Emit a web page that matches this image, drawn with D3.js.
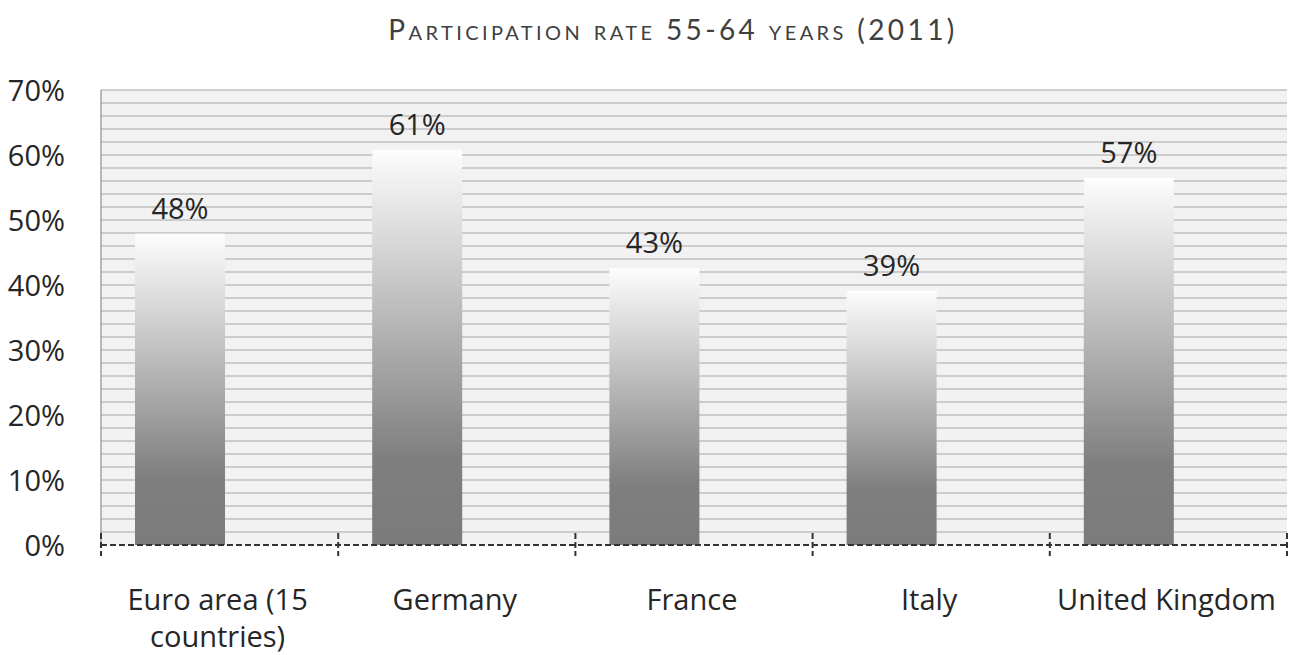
<!DOCTYPE html>
<html>
<head>
<meta charset="utf-8">
<script src="https://d3js.org/d3.v7.min.js"></script>
<style>
  body { margin: 0; background: #fff; }
  text { font-family: "Open Sans", "Noto Sans", sans-serif; fill: #262626; }
</style>
</head>
<body>
<script>
const countries = ['Euro area (15 countries)', 'Germany', 'France', 'Italy', 'United Kingdom'];
const labelLines = [['Euro area (15', 'countries)'], ['Germany'], ['France'], ['Italy'], ['United Kingdom']];
const rates = [47.9, 60.8, 42.6, 39.1, 56.5];
const yTicks = [0, 10, 20, 30, 40, 50, 60, 70];

const w = 1294, h = 655;
const padL = 101, padR = 1287, padT = 90, padB = 545;

const svg = d3.select('body').append('svg')
  .attr('width', w).attr('height', h);

const defs = svg.append('defs');
const grad = defs.append('linearGradient')
  .attr('id', 'barGrad').attr('x1', 0).attr('y1', 0).attr('x2', 0).attr('y2', 1);
grad.append('stop').attr('offset', '0%').attr('stop-color', '#fdfdfd');
grad.append('stop').attr('offset', '78%').attr('stop-color', '#7f7f7f');
grad.append('stop').attr('offset', '100%').attr('stop-color', '#7b7b7b');

const x = d3.scaleBand().domain(countries).range([padL, padR]);
const y = d3.scaleLinear().domain([0, 70]).range([padB, padT]);

// plot background
svg.append('rect')
  .attr('x', padL).attr('y', padT)
  .attr('width', padR - padL).attr('height', padB - padT)
  .attr('fill', '#f2f2f2');

// minor gridlines every 2%
svg.append('g')
  .selectAll('line')
  .data(d3.range(2, 72, 2))
  .enter().append('line')
  .attr('x1', padL).attr('x2', padR)
  .attr('y1', d => y(d)).attr('y2', d => y(d))
  .attr('stroke', '#bfbfbf').attr('stroke-width', 1.5);

// left axis line
svg.append('line')
  .attr('x1', padL).attr('x2', padL).attr('y1', padT).attr('y2', padB)
  .attr('stroke', '#8c8c8c').attr('stroke-width', 1.2);

// y tick labels
svg.append('g')
  .selectAll('text')
  .data(yTicks)
  .enter().append('text')
  .attr('x', 65).attr('y', d => y(d) + 11)
  .attr('text-anchor', 'end')
  .style('font-size', '29px')
  .text(d => d + '%');

// bars (first of two slots in each category)
const barW = 90;
svg.append('g')
  .selectAll('rect')
  .data(rates)
  .enter().append('rect')
  .attr('x', (d, i) => x(countries[i]) + 34)
  .attr('y', d => y(d))
  .attr('width', barW)
  .attr('height', d => padB - y(d))
  .attr('fill', 'url(#barGrad)');

// value labels
svg.append('g')
  .selectAll('text')
  .data(rates)
  .enter().append('text')
  .attr('x', (d, i) => x(countries[i]) + 34 + barW / 2)
  .attr('y', d => y(d) - 15)
  .attr('text-anchor', 'middle')
  .style('font-size', '29px')
  .text(d => Math.round(d) + '%');

// baseline dashed
svg.append('line')
  .attr('x1', padL).attr('x2', padR).attr('y1', padB).attr('y2', padB)
  .attr('stroke', '#333').attr('stroke-width', 2).attr('stroke-dasharray', '6,3');

// category tick marks
const tickPos = countries.map(c => x(c)).concat([padR]);
svg.append('g')
  .selectAll('line')
  .data(tickPos)
  .enter().append('line')
  .attr('x1', d => d).attr('x2', d => d)
  .attr('y1', padB - 12).attr('y2', padB + 11)
  .attr('stroke', '#333').attr('stroke-width', 2).attr('stroke-dasharray', '6,3');

// category labels
const cat = svg.append('g')
  .selectAll('text')
  .data(countries)
  .enter().append('text')
  .attr('x', d => x(d) + x.bandwidth() / 2 - 2)
  .attr('y', 610)
  .attr('text-anchor', 'middle')
  .style('font-size', '29px');
cat.selectAll('tspan')
  .data((d, i) => labelLines[i])
  .enter().append('tspan')
  .attr('x', function () { return d3.select(this.parentNode).attr('x'); })
  .attr('dy', (d, i) => i === 0 ? 0 : 37)
  .text(d => d);

// title
svg.append('text')
  .attr('x', 673).attr('y', 40)
  .attr('text-anchor', 'middle')
  .style('font-family', 'Lato, "Open Sans", sans-serif')
  .style('font-size', '28px')
  .style('font-variant', 'small-caps')
  .style('letter-spacing', '3.4px')
  .style('fill', '#404040')
  .text('Participation rate 55-64 years (2011)');
</script>
</body>
</html>
